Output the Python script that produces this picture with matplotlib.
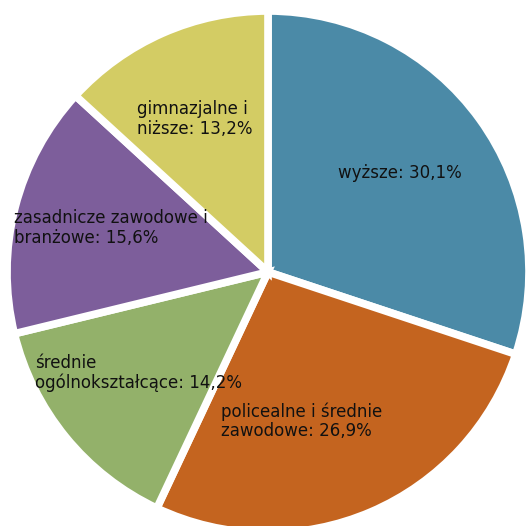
import matplotlib
matplotlib.use("Agg")
from matplotlib import pyplot as plt

# Data
labels = ["wyższe", "policealne i średnie\nzawodowe", "średnie\nogólnokształcące",
          "zasadnicze zawodowe i\nbranżowe", "gimnazjalne i\nniższe"]
values = [30.1, 26.9, 14.2, 15.6, 13.2]
colors = ["#4b8aa7", "#c4641f", "#93b16a", "#7d5e9b", "#d3cc64"]

# label anchor points in pixel coords (left, vertical centre), y from top
label_pos = [(338, 173), (221, 421), (35, 373), (14, 228), (137, 119)]

W, H = 527, 526
fig = plt.figure(figsize=(W / 100, H / 100), dpi=100)
ax = fig.add_axes([0, 0, 1, 1])

ax.pie(values, colors=colors, startangle=90, counterclock=False,
       center=(268, H - 272), radius=261,
       wedgeprops=dict(edgecolor="white", linewidth=5.5, joinstyle="miter"))

for lab, val, (x, y) in zip(labels, values, label_pos):
    txt = lab + ": " + f"{val:.1f}".replace(".", ",") + "%"
    ax.text(x, H - y, txt, ha="left", va="center", fontsize=12,
            color="#111111", linespacing=1.1, family="DejaVu Sans")

ax.set_xlim(0, W)
ax.set_ylim(0, H)
ax.set_aspect("equal")
ax.axis("off")

fig.savefig("out.png", dpi=100)
